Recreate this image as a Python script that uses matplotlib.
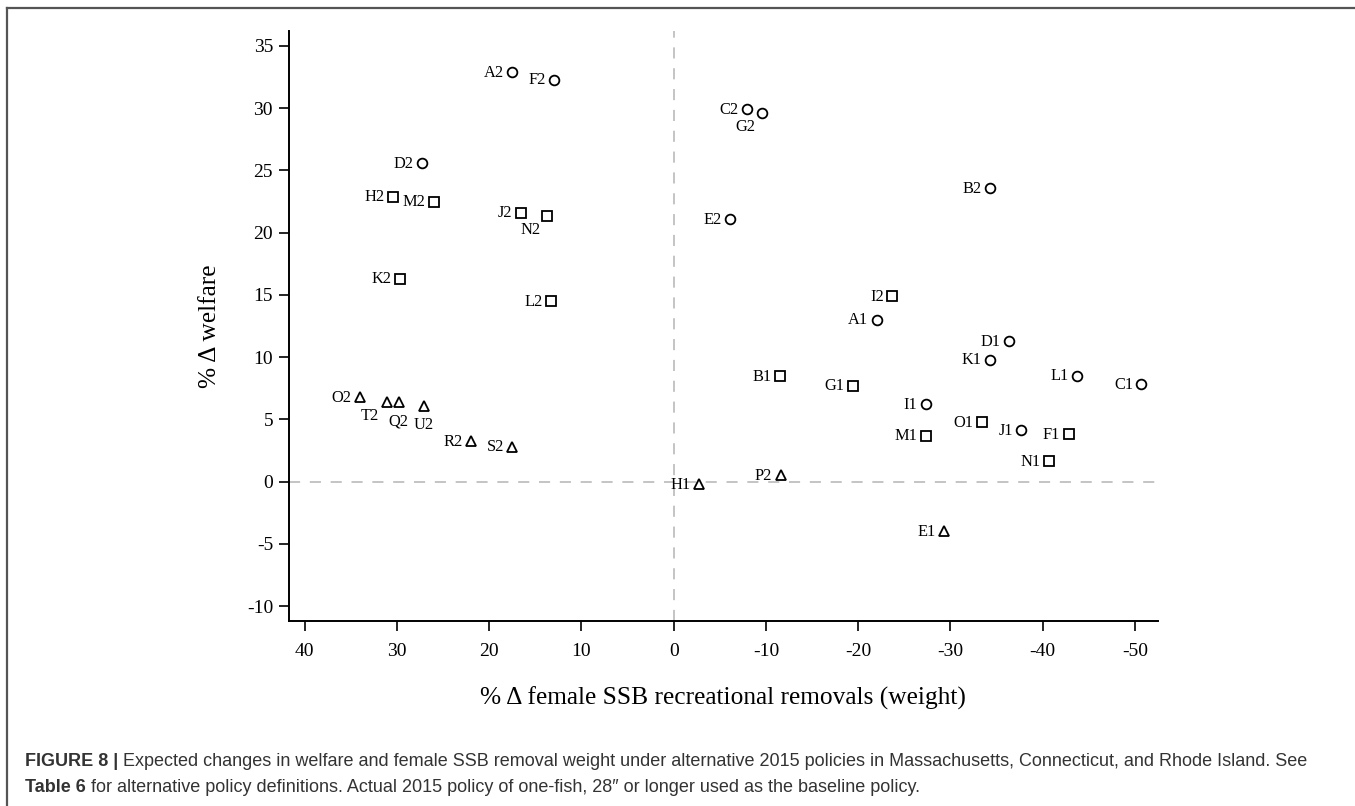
import matplotlib
matplotlib.use("Agg")
import matplotlib.pyplot as plt
from matplotlib.lines import Line2D

# circles
circ_lab = ['A2', 'F2', 'D2', 'C2', 'G2', 'B2', 'E2', 'A1', 'D1', 'K1', 'L1', 'C1', 'I1', 'J1']
circ_x = [17.5, 13.0, 27.3, -7.9, -9.6, -34.3, -6.1, -22.0, -36.3, -34.3, -43.7, -50.7, -27.3, -37.7]
circ_y = [32.9, 32.3, 25.6, 29.9, 29.6, 23.6, 21.1, 13.0, 11.3, 9.8, 8.5, 7.85, 6.2, 4.15]
# squares
sq_lab = ['H2', 'M2', 'J2', 'N2', 'K2', 'L2', 'I2', 'B1', 'G1', 'O1', 'M1', 'F1', 'N1']
sq_x = [30.4, 26.0, 16.6, 13.7, 29.7, 13.3, -23.7, -11.5, -19.4, -33.4, -27.3, -42.8, -40.7]
sq_y = [22.9, 22.5, 21.6, 21.3, 16.3, 14.5, 14.9, 8.46, 7.7, 4.76, 3.7, 3.83, 1.63]
# triangles
tri_lab = ['O2', 'T2', 'Q2', 'U2', 'R2', 'S2', 'P2', 'H1', 'E1']
tri_x = [34.0, 31.1, 29.8, 27.1, 22.0, 17.5, -11.6, -2.7, -29.3]
tri_y = [6.77, 6.4, 6.4, 6.1, 3.24, 2.8, 0.5, -0.2, -4.0]

xticks = [40, 30, 20, 10, 0, -10, -20, -30, -40, -50]
yticks = [-10, -5, 0, 5, 10, 15, 20, 25, 30, 35]

# label clock positions (default 9 o'clock)
clockpos = {'G2': 7, 'N2': 7, 'T2': 7, 'Q2': 6, 'U2': 6}

plt.rcParams['font.family'] = ['Liberation Serif', 'DejaVu Serif']
plt.rcParams['lines.scale_dashes'] = False

fig = plt.figure(figsize=(13.55, 8.06), dpi=100)
ax = fig.add_axes([289/1355, 1-621/806, (1158-289)/1355, (621-31)/806])

gray = '#c4c4c4'
ax.axhline(0, color=gray, lw=1.4, ls=(0, (8, 7)), zorder=1)
ax.axvline(0, color=gray, lw=1.4, ls=(0, (8, 7)), zorder=1)

sets = [(circ_lab, circ_x, circ_y, 'o', 7),
        (sq_lab, sq_x, sq_y, 's', 6.5),
        (tri_lab, tri_x, tri_y, '^', 7)]
for lab, xs, ys, m, ms in sets:
    ax.plot(xs, ys, ls='none', marker=m, ms=ms, mfc='none', mec='black',
            mew=1.3, zorder=3)
    for t, x, y in zip(lab, xs, ys):
        p = clockpos.get(t, 9)
        if p == 9:
            ax.annotate(t, (x, y), xytext=(-6, -0.5), textcoords='offset points',
                        ha='right', va='center', fontsize=11.8)
        elif p == 7:
            ax.annotate(t, (x, y), xytext=(-12, -10), textcoords='offset points',
                        ha='center', va='center', fontsize=11.8)
        else:
            ax.annotate(t, (x, y), xytext=(0, -14), textcoords='offset points',
                        ha='center', va='center', fontsize=11.8)

ax.set_xlim(41.7, -52.5)
ax.set_ylim(-11.2, 36.2)
ax.set_xticks(xticks)
ax.set_xticklabels([str(v) for v in xticks])
ax.set_yticks(yticks)
ax.set_yticklabels([str(v) for v in yticks])
ax.tick_params(axis='both', direction='out', length=7.5, width=1.2, labelsize=14)
ax.tick_params(axis='x', pad=8)
ax.tick_params(axis='y', pad=4)
for s in ['top', 'right']:
    ax.spines[s].set_visible(False)
for s in ['left', 'bottom']:
    ax.spines[s].set_linewidth(1.4)

fig.text(210/1355, 1-326/806, '% \u0394 welfare', rotation=90, fontsize=18.3,
         ha='center', va='center')
fig.text(723/1355, 1-698/806, '% \u0394 female SSB recreational removals (weight)',
         fontsize=18.3, ha='center', va='center')

# frame
fig.add_artist(Line2D([7/1355, 1], [1-8/806, 1-8/806], color='#555555', lw=1.6))
fig.add_artist(Line2D([7/1355, 7/1355], [0, 1-8/806], color='#555555', lw=1.6))

# caption
cap = dict(family=['Liberation Sans', 'DejaVu Sans'], fontsize=13, color='#333333')
t1 = fig.text(25/1355, 1-762/806, 'FIGURE 8 | ', fontweight='bold', va='center', **cap)
ax.annotate('Expected changes in welfare and female SSB removal weight under alternative 2015 '
            'policies in Massachusetts, Connecticut, and Rhode Island. See',
            xy=(1, 0), xycoords=t1, va='bottom', annotation_clip=False, **cap)
t2 = fig.text(25/1355, 1-787/806, 'Table 6', fontweight='bold', va='center', **cap)
ax.annotate(' for alternative policy definitions. Actual 2015 policy of one-fish, 28\u2033 '
            'or longer used as the baseline policy.',
            xy=(1, 0), xycoords=t2, va='bottom', annotation_clip=False, **cap)

fig.savefig('out.png', dpi=100)
